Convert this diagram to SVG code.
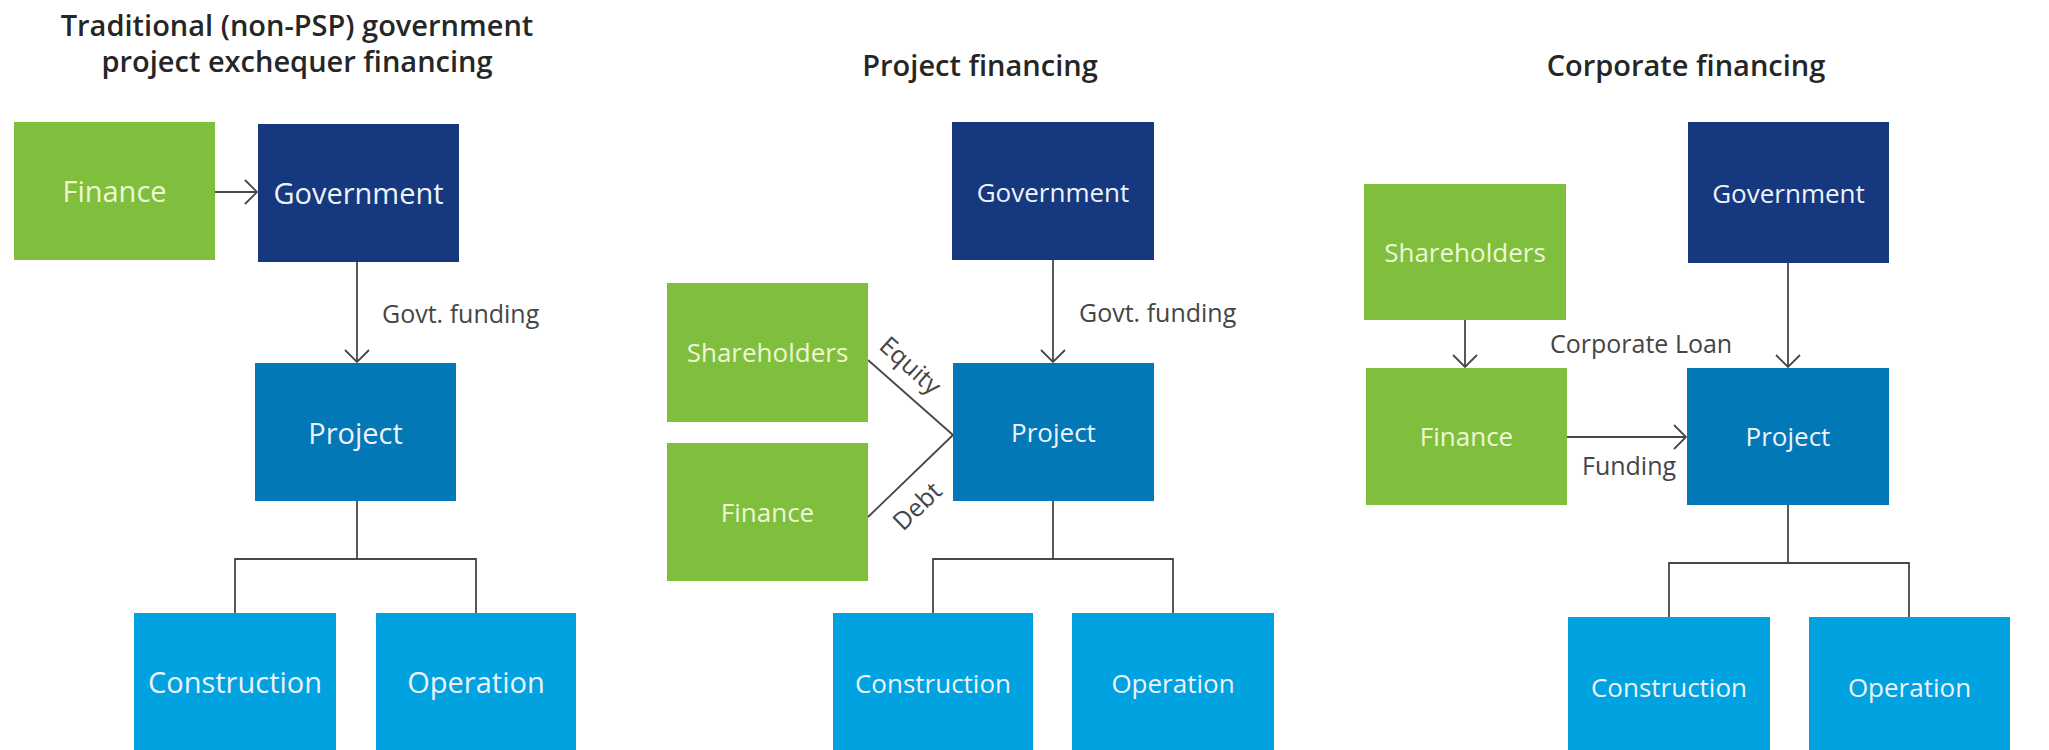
<svg xmlns="http://www.w3.org/2000/svg" width="2049" height="750" viewBox="0 0 2049 750">
  <style>
    .title { font-family: "Open Sans", "Liberation Sans", sans-serif; font-weight: 600; font-size: 29px; fill: #262626; text-anchor: middle; }
    .lbl { font-family: "Open Sans", "Liberation Sans", sans-serif; font-size: 25px; fill: #454545; }
    .green { fill: #7fbf3d; }
    .navy { fill: #15387e; }
    .proj { fill: #0278b7; }
    .sky { fill: #00a2df; }
    .t1 { font-family: "Open Sans", "Liberation Sans", sans-serif; font-size: 29px; text-anchor: middle; }
    .t2 { font-family: "Open Sans", "Liberation Sans", sans-serif; font-size: 26px; text-anchor: middle; }
    .onGreen { fill: #eef7d6; }
    .onBlue { fill: #eef3fb; }
    .wire { fill: none; stroke: #474747; stroke-width: 1.8; }
  </style>
  <defs>
    <marker id="vee" markerUnits="userSpaceOnUse" markerWidth="16" markerHeight="28" refX="13" refY="13" orient="auto" viewBox="0 0 16 28">
      <path d="M1,1 L13,13 L1,25" fill="none" stroke="#474747" stroke-width="1.8"/>
    </marker>
  </defs>
  <rect width="2049" height="750" fill="#ffffff"/>

  <!-- Titles -->
  <text class="title" x="297" y="35.5">Traditional (non-PSP) government</text>
  <text class="title" x="297" y="72">project exchequer financing</text>
  <text class="title" x="980" y="76">Project financing</text>
  <text class="title" x="1686" y="76">Corporate financing</text>

  <!-- Connectors -->
  <g id="connectors" class="wire">
    <!-- traditional -->
    <path d="M215,192 H257" marker-end="url(#vee)"/>
    <path d="M357,262 V362" marker-end="url(#vee)"/>
    <path d="M357,501 V559"/>
    <path d="M235,613 V559 H476 V613"/>
    <!-- project financing -->
    <path d="M1053,260 V362" marker-end="url(#vee)"/>
    <path d="M868,360 L953,435"/>
    <path d="M868,517 L953,435"/>
    <path d="M1053,501 V559"/>
    <path d="M933,613 V559 H1173 V613"/>
    <!-- corporate financing -->
    <path d="M1465,320 V367" marker-end="url(#vee)"/>
    <path d="M1788,263 V367" marker-end="url(#vee)"/>
    <path d="M1567,437 H1686" marker-end="url(#vee)"/>
    <path d="M1788,505 V563"/>
    <path d="M1669,617 V563 H1909 V617"/>
  </g>

  <!-- Connector labels -->
  <g id="connector-labels">
    <text class="lbl" x="382" y="323">Govt. funding</text>
    <text class="lbl" x="1079" y="322">Govt. funding</text>
    <text class="lbl" text-anchor="middle" transform="translate(910,366) rotate(42)" y="8">Equity</text>
    <text class="lbl" text-anchor="middle" transform="translate(917,506) rotate(-44)" y="9">Debt</text>
    <text class="lbl" x="1550" y="353">Corporate Loan</text>
    <text class="lbl" x="1582" y="475">Funding</text>
  </g>

  <!-- Traditional (non-PSP) government project exchequer financing -->
  <g id="t-finance"><rect class="green" x="14" y="122" width="201" height="138"/><text class="t1 onGreen" x="114.5" y="202">Finance</text></g>
  <g id="t-government"><rect class="navy" x="258" y="124" width="201" height="138"/><text class="t1 onBlue" x="358.5" y="204">Government</text></g>
  <g id="t-project"><rect class="proj" x="255" y="363" width="201" height="138"/><text class="t1 onBlue" x="355.5" y="444">Project</text></g>
  <g id="t-construction"><rect class="sky" x="134" y="613" width="202" height="137"/><text class="t1 onBlue" x="235" y="693">Construction</text></g>
  <g id="t-operation"><rect class="sky" x="376" y="613" width="200" height="137"/><text class="t1 onBlue" x="476" y="693">Operation</text></g>

  <!-- Project financing -->
  <g id="p-government"><rect class="navy" x="952" y="122" width="202" height="138"/><text class="t2 onBlue" x="1053" y="202">Government</text></g>
  <g id="p-shareholders"><rect class="green" x="667" y="283" width="201" height="139"/><text class="t2 onGreen" x="767.5" y="362">Shareholders</text></g>
  <g id="p-finance"><rect class="green" x="667" y="443" width="201" height="138"/><text class="t2 onGreen" x="767.5" y="522">Finance</text></g>
  <g id="p-project"><rect class="proj" x="953" y="363" width="201" height="138"/><text class="t2 onBlue" x="1053.5" y="442">Project</text></g>
  <g id="p-construction"><rect class="sky" x="833" y="613" width="200" height="137"/><text class="t2 onBlue" x="933" y="693">Construction</text></g>
  <g id="p-operation"><rect class="sky" x="1072" y="613" width="202" height="137"/><text class="t2 onBlue" x="1173" y="693">Operation</text></g>

  <!-- Corporate financing -->
  <g id="c-government"><rect class="navy" x="1688" y="122" width="201" height="141"/><text class="t2 onBlue" x="1788.5" y="203">Government</text></g>
  <g id="c-shareholders"><rect class="green" x="1364" y="184" width="202" height="136"/><text class="t2 onGreen" x="1465" y="262">Shareholders</text></g>
  <g id="c-finance"><rect class="green" x="1366" y="368" width="201" height="137"/><text class="t2 onGreen" x="1466.5" y="446">Finance</text></g>
  <g id="c-project"><rect class="proj" x="1687" y="368" width="202" height="137"/><text class="t2 onBlue" x="1788" y="446">Project</text></g>
  <g id="c-construction"><rect class="sky" x="1568" y="617" width="202" height="133"/><text class="t2 onBlue" x="1669" y="697">Construction</text></g>
  <g id="c-operation"><rect class="sky" x="1809" y="617" width="201" height="133"/><text class="t2 onBlue" x="1909.5" y="697">Operation</text></g>
</svg>
